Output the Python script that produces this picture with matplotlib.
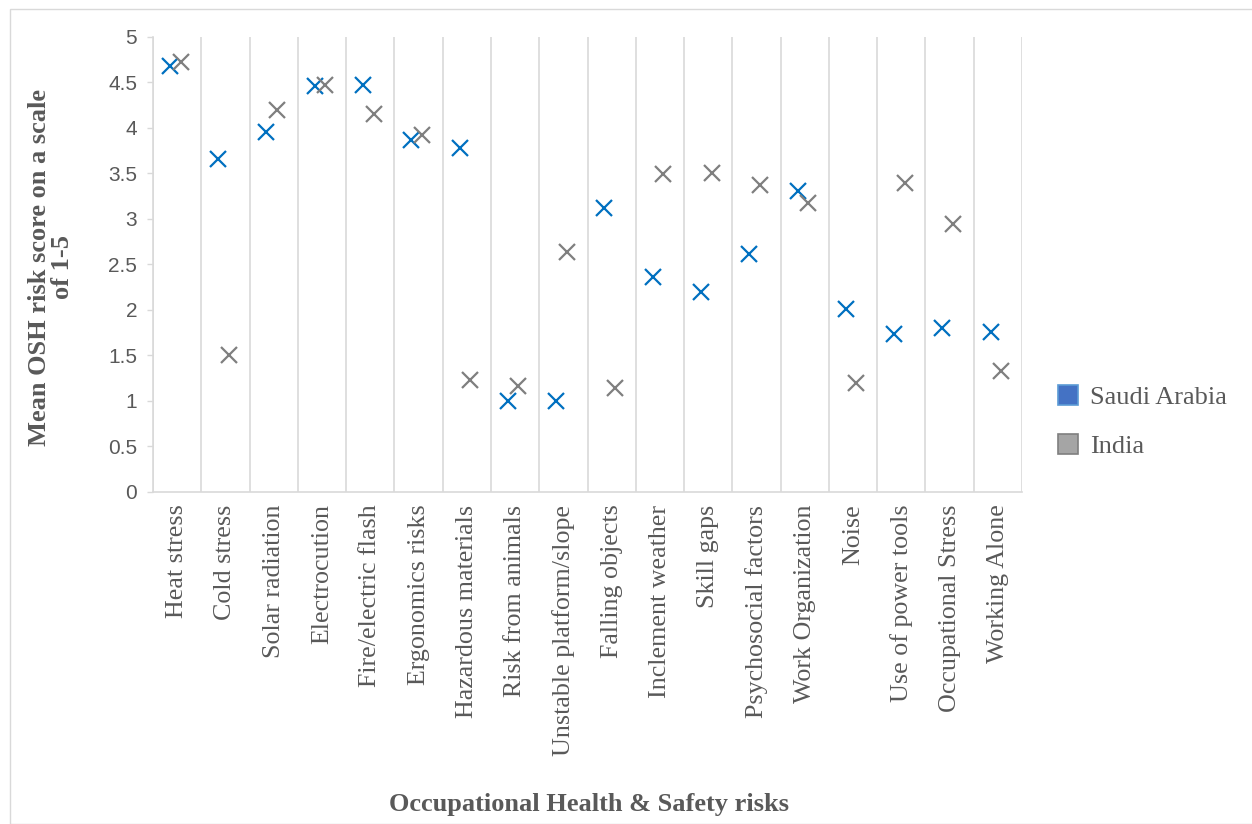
import matplotlib
matplotlib.use("Agg")
import matplotlib.pyplot as plt
from matplotlib.patches import Patch, Rectangle

categories = ["Heat stress", "Cold stress", "Solar radiation", "Electrocution",
              "Fire/electric flash", "Ergonomics risks", "Hazardous materials",
              "Risk from animals", "Unstable platform/slope", "Falling objects",
              "Inclement weather", "Skill gaps", "Psychosocial factors",
              "Work Organization", "Noise", "Use of power tools",
              "Occupational Stress", "Working Alone"]
saudi = [4.68, 3.66, 3.96, 4.46, 4.47, 3.87, 3.78, 1.00, 1.00, 3.12,
         2.36, 2.20, 2.62, 3.31, 2.01, 1.74, 1.80, 1.76]
india = [4.73, 1.51, 4.20, 4.47, 4.15, 3.92, 1.23, 1.16, 2.64, 1.14,
         3.49, 3.51, 3.37, 3.18, 1.20, 3.40, 2.95, 1.33]
yticks = [0, 0.5, 1, 1.5, 2, 2.5, 3, 3.5, 4, 4.5, 5]
ytick_labels = ["0", "0.5", "1", "1.5", "2", "2.5", "3", "3.5", "4", "4.5", "5"]
series_names = ["Saudi Arabia", "India"]

W, H = 1252, 824
fig = plt.figure(figsize=(W / 100, H / 100), dpi=100)
fig.patch.set_facecolor("white")
ax = fig.add_axes([153 / W, 1 - 492 / H, (1022 - 153) / W, (492 - 37) / H])

grid_c = "#D9D9D9"
text_c = "#595959"
serif = ["Liberation Serif", "DejaVu Serif"]
sans = ["Liberation Sans", "DejaVu Sans"]

n = len(categories)
for b in range(n + 1):
    ax.axvline(b, color=grid_c, lw=1.2, zorder=0)

xs_sa = [i + 0.35 for i in range(n)]
xs_in = [i + 0.57 for i in range(n)]
ax.plot(xs_sa, saudi, linestyle="none", marker="x", markersize=11,
        markeredgewidth=1.6, color="#0070C0", zorder=3)
ax.plot(xs_in, india, linestyle="none", marker="x", markersize=11,
        markeredgewidth=1.6, color="#7F7F7F", zorder=3)

ax.set_xlim(0, n)
ax.set_ylim(0, 5)
for s in ["top", "right"]:
    ax.spines[s].set_visible(False)
for s in ["left", "bottom"]:
    ax.spines[s].set_color(grid_c)
    ax.spines[s].set_linewidth(1.2)

ax.set_yticks(yticks)
ax.set_yticklabels(ytick_labels, fontfamily=sans, fontsize=15, color=text_c)
ax.tick_params(axis="y", length=4.5, width=1.0, color=grid_c, pad=7)

ax.set_xticks([i + 0.5 for i in range(n)])
ax.set_xticklabels(categories, rotation=90, fontfamily=serif, fontsize=18.7,
                   color=text_c, va="top", ha="center")
ax.tick_params(axis="x", length=0, pad=9)

fig.text(51 / W, 1 - 267 / H, "Mean OSH risk score on a scale\nof 1-5",
         rotation=90, ha="center", va="center", fontfamily=serif,
         fontweight="bold", fontsize=19, color=text_c, linespacing=1.0,
         multialignment="center")
fig.text(589 / W, 1 - 805 / H, "Occupational Health & Safety risks",
         ha="center", va="center", fontfamily=serif, fontweight="bold",
         fontsize=19, color=text_c)

handles = [Patch(facecolor="#4472C4", edgecolor="#5B9BD5", lw=1.2),
           Patch(facecolor="#A5A5A5", edgecolor="#7F7F7F", lw=1.2)]
leg = fig.legend(handles, series_names, loc="upper left",
                 bbox_to_anchor=(1058 / W, 1 - 385 / H),
                 prop={"family": serif, "size": 19}, frameon=False,
                 handlelength=0.76, handleheight=0.76, handletextpad=0.45,
                 labelspacing=0.95, borderaxespad=0, borderpad=0)
for t in leg.get_texts():
    t.set_color(text_c)

fig.add_artist(Rectangle((10 / W, 0), 1.0, 1 - 9 / H, transform=fig.transFigure,
                         fill=False, edgecolor=grid_c, lw=1.0))

fig.savefig("out.png", dpi=100)
